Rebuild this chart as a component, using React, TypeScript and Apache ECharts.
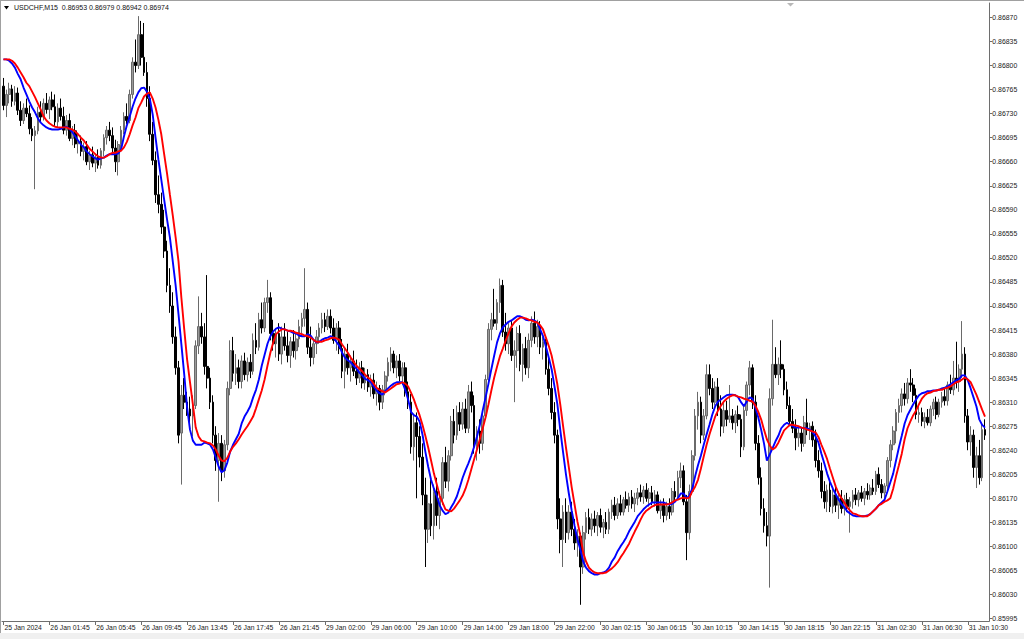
import React, { useEffect, useRef } from "react";
import * as echarts from "echarts";

// Prices are stored as points above 0.86000 (1 point = 0.00001)
const BASE = 0.86;

const OPEN_PTS = [
770,742,758,766,748,760,735,720,738,730,
708,698,705,732,725,745,736,750,740,718,
738,726,706,720,694,705,686,690,675,682,
660,670,658,666,655,676,695,706,698,680,
660,685,706,726,720,758,805,800,845,812,
790,752,700,662,612,598,565,530,480,450,
405,360,265,320,310,300,290,305,392,420,
405,362,345,310,262,225,250,210,248,330,
385,352,360,340,370,350,368,355,400,390,
430,418,455,462,410,395,410,380,405,392,
378,398,385,402,420,432,445,390,375,395,
405,418,430,420,435,418,400,418,388,355,
380,360,370,355,345,360,338,350,332,342,
322,330,310,328,348,368,380,360,370,348,
360,325,310,245,280,260,230,175,125,162,
130,180,145,170,222,195,232,282,262,295,
278,300,272,325,305,245,268,250,290,343,
416,430,425,455,480,412,395,418,378,385,
410,365,388,360,400,425,405,420,390,398,
358,330,295,262,140,110,150,120,150,125,
105,115,70,120,142,125,140,130,145,128,
135,125,150,160,145,162,150,168,160,172,
162,170,178,172,182,170,178,165,175,152,
160,145,158,150,180,172,200,210,165,120,
180,232,290,310,262,290,350,330,310,332,
300,275,298,285,290,280,292,285,245,298,
335,360,310,250,200,155,130,115,315,365,
350,365,358,328,305,282,272,258,265,250,
280,270,275,255,225,210,180,165,182,158,
175,160,170,155,168,158,165,175,168,178,
170,180,175,185,180,205,190,178,188,225,
248,268,295,305,322,315,338,335,320,292,
295,282,288,280,300,310,292,310,318,312,
335,328,345,340,358,380,290,252,262,215,
232,200,270
];

const HIGH_PTS = [
782,765,775,772,770,768,748,745,752,742,
725,712,740,748,752,760,755,762,758,745,
752,740,728,730,712,715,700,698,688,690,
676,682,672,678,680,700,712,718,710,692,
690,712,732,745,765,812,838,872,865,862,
805,770,718,675,640,615,590,545,505,470,
420,370,335,345,325,318,320,400,464,440,
425,495,360,320,275,265,262,255,340,400,
405,380,372,378,382,375,380,410,425,440,
455,462,488,470,430,418,425,420,425,412,
405,415,410,430,440,505,455,420,400,415,
425,440,440,445,445,432,425,428,402,390,
395,378,385,372,368,370,360,358,350,352,
340,335,335,355,375,390,385,378,380,368,
368,340,322,290,295,275,250,200,175,200,
190,200,180,230,245,240,290,300,305,310,
310,315,335,340,320,275,285,300,350,425,
440,475,460,490,488,440,425,428,400,420,
422,395,405,410,435,442,430,428,405,402,
375,345,310,270,170,160,170,160,165,140,
125,120,130,150,155,148,152,150,155,140,
150,155,168,172,170,175,172,180,178,182,
178,185,190,188,192,185,188,182,180,168,
170,165,170,185,195,210,222,218,175,190,
240,300,325,318,300,365,365,345,340,345,
320,310,312,335,300,298,305,292,305,340,
370,365,320,262,215,170,150,330,430,390,
375,400,365,340,318,300,285,275,272,290,
315,280,282,270,240,222,195,190,195,185,
190,180,182,175,178,172,182,185,182,188,
185,192,190,198,210,215,198,192,230,255,
275,300,315,330,338,345,358,345,330,305,
302,295,300,305,315,318,315,325,330,340,
350,370,398,365,428,390,300,275,270,245,
255,280,285
];

const LOW_PTS = [
735,725,745,740,742,728,712,715,725,700,
690,620,700,718,720,730,722,735,712,710,
720,700,698,690,684,680,672,668,662,655,
648,652,645,650,650,668,685,690,672,645,
640,678,700,715,716,752,790,795,800,785,
740,690,655,600,585,555,520,470,440,395,
350,250,190,300,290,270,260,300,380,395,
350,330,300,250,210,165,195,200,240,320,
340,335,330,330,342,340,345,350,380,385,
410,412,440,400,385,375,370,365,385,368,
360,375,372,390,405,420,380,362,365,380,
395,410,412,415,410,395,385,380,345,330,
350,340,348,335,338,330,328,325,318,315,
305,298,300,320,340,355,352,345,340,335,
318,300,235,225,170,215,160,70,105,115,
110,130,125,160,185,180,225,250,255,268,
270,265,265,295,235,225,235,240,285,338,
400,420,415,440,405,385,380,370,310,360,
355,340,350,345,390,395,390,380,372,350,
320,285,250,125,90,70,105,110,115,95,
85,15,60,110,118,115,120,115,120,112,
118,118,140,138,140,145,145,155,150,155,
150,160,165,162,165,158,160,158,148,140,
135,138,140,145,165,168,185,160,80,110,
175,225,270,250,255,285,320,300,305,290,
260,265,275,280,270,265,275,230,240,290,
320,300,240,190,145,120,100,40,305,345,
335,345,320,300,275,265,240,245,238,245,
262,255,245,215,200,170,155,150,150,148,
150,140,148,145,150,120,155,160,158,165,
160,168,168,175,175,185,170,170,182,215,
240,250,280,295,305,308,325,310,285,280,
275,272,276,275,290,285,288,302,305,305,
322,320,330,325,345,280,240,232,200,185,
190,195,255
];

const CLOSE_PTS = [
742,758,766,748,760,735,720,738,730,708,
698,705,732,725,745,736,750,740,718,738,
726,706,720,694,705,686,690,675,682,660,
670,658,666,655,676,695,706,698,680,660,
685,706,726,720,758,805,800,845,812,790,
752,700,662,612,598,565,530,480,450,405,
360,262,320,310,300,290,305,392,420,405,
362,345,310,262,225,250,210,248,330,385,
352,360,340,370,350,368,355,400,390,430,
418,455,462,410,395,410,380,405,392,378,
398,385,402,420,432,445,390,375,395,405,
418,430,420,435,418,400,418,388,355,380,
360,370,355,345,360,338,350,332,342,322,
330,310,328,348,368,380,360,370,348,360,
325,310,245,280,260,230,175,125,162,130,
180,145,170,222,195,232,282,262,295,278,
300,272,325,305,245,268,250,290,343,416,
430,425,455,480,412,395,418,378,385,410,
365,388,360,400,425,405,420,390,398,358,
330,295,262,140,110,150,120,150,125,105,
115,70,120,142,125,140,130,145,128,135,
125,150,160,145,162,150,168,160,172,162,
170,178,172,182,170,178,165,175,152,160,
145,158,150,180,172,200,210,165,120,180,
232,290,310,262,290,350,330,310,332,300,
275,298,285,290,280,292,285,245,298,335,
360,310,250,200,155,130,115,315,365,350,
365,358,328,305,282,272,258,265,250,280,
270,275,255,225,210,180,165,182,158,175,
160,170,155,168,158,165,175,168,178,170,
180,175,185,180,205,190,178,188,225,248,
268,295,305,322,315,338,335,320,292,295,
282,288,280,300,310,292,310,318,312,335,
328,345,340,358,380,290,252,262,215,232,
200,270,262
];

// Fast (blue) moving average, points above 0.86000
const MA_FAST_PTS = [
809,809,807,803,797,788,780,768,758,748,
739,732,723,717,713,710,708,707,707,707,
708,710,711,708,703,697,691,685,681,675,
671,668,665,663,665,666,669,671,671,671,
672,678,697,713,726,740,752,761,767,768,
762,752,729,695,663,634,605,576,550,515,
480,438,394,350,302,270,254,248,248,248,
251,250,248,241,229,216,208,211,222,238,
248,256,264,279,289,296,304,317,328,343,
363,379,395,406,413,417,419,417,416,414,
413,411,410,407,406,406,409,407,401,397,
398,401,403,404,406,404,398,392,382,375,
371,368,363,359,353,349,344,342,339,333,
327,323,321,326,330,334,337,339,339,339,
328,314,296,291,289,282,263,238,216,197,
184,173,160,152,147,149,157,164,173,186,
200,211,221,232,245,260,277,298,317,337,
358,378,397,410,419,423,427,429,432,435,
435,433,430,429,430,429,426,416,406,391,
375,358,333,307,270,237,205,177,152,130,
110,96,78,69,64,61,59,59,61,62,
64,69,78,84,93,100,106,113,122,129,
136,144,149,154,158,161,164,164,164,164,
164,162,161,162,165,170,177,177,170,174,
184,202,218,232,248,263,277,292,304,311,
314,317,320,321,321,320,317,310,304,311,
317,315,302,288,270,250,225,234,243,253,
261,272,277,280,277,275,273,273,273,272,
272,270,266,260,251,235,221,206,194,184,
176,168,162,157,151,148,145,144,144,144,
144,145,147,151,155,160,164,168,180,193,
206,225,244,261,279,291,299,307,314,320,
323,324,326,326,327,327,328,330,331,333,
336,339,342,344,349,349,342,330,317,304,
285,277,273
];

// Slow (red) moving average, points above 0.86000
const MA_SLOW_PTS = [
809,809,809,807,803,797,790,783,775,770,
762,754,745,736,726,720,716,713,711,710,
710,710,710,708,707,704,700,695,691,685,
679,675,671,668,666,666,668,671,673,673,
675,676,681,689,700,713,724,738,746,755,
759,761,752,739,721,700,671,643,612,582,
550,515,462,416,372,339,307,273,260,254,
253,251,250,247,241,232,225,224,229,238,
245,250,256,263,269,275,282,289,301,314,
327,343,363,382,397,409,413,416,416,414,
414,413,411,410,409,407,406,404,401,398,
398,398,400,401,403,404,403,401,394,388,
382,375,369,363,359,355,350,346,343,337,
331,328,326,324,327,330,333,336,337,339,
337,333,324,314,302,291,277,261,244,225,
206,190,174,164,154,152,151,155,161,167,
174,184,197,212,227,241,256,272,288,307,
327,346,362,377,388,400,410,420,426,430,
433,433,432,430,429,427,426,422,416,404,
392,378,358,336,307,275,244,215,186,161,
136,116,91,78,69,65,62,61,61,61,
62,65,68,72,77,84,90,97,104,113,
122,130,139,147,152,155,158,160,161,161,
161,161,162,164,167,168,170,171,170,171,
180,187,197,213,231,248,263,276,289,298,
305,311,315,318,320,320,318,317,315,314,
312,311,305,296,285,270,256,247,241,244,
251,260,269,273,277,277,276,275,273,272,
270,269,267,266,259,248,238,227,213,200,
187,177,170,164,157,152,148,147,145,144,
144,144,147,151,155,160,162,165,167,170,
184,202,218,235,256,272,282,291,298,307,
315,320,323,324,326,327,328,328,330,331,
333,336,339,340,343,346,343,339,330,321,
310,299,289
];

// One tick label every 16 bars
const TIME_LABELS = [
  "25 Jan 2024", "26 Jan 01:45", "26 Jan 05:45", "26 Jan 09:45", "26 Jan 13:45",
  "26 Jan 17:45", "26 Jan 21:45", "29 Jan 02:00", "29 Jan 06:00", "29 Jan 10:00",
  "29 Jan 14:00", "29 Jan 18:00", "29 Jan 22:00", "30 Jan 02:15", "30 Jan 06:15",
  "30 Jan 10:15", "30 Jan 14:15", "30 Jan 18:15", "30 Jan 22:15", "31 Jan 02:30",
  "31 Jan 06:30", "31 Jan 10:30"
];

const PRICE_TICKS = [
  0.85995, 0.8603, 0.86065, 0.861, 0.86135, 0.8617, 0.86205, 0.8624, 0.86275,
  0.8631, 0.86345, 0.8638, 0.86415, 0.8645, 0.86485, 0.8652, 0.86555, 0.8659,
  0.86625, 0.8666, 0.86695, 0.8673, 0.86765, 0.868, 0.86835, 0.8687
];

const HEADER = "USDCHF,M15  0.86953 0.86979 0.86942 0.86974";

const FONT = "'Liberation Sans', Arial, sans-serif";

export default function App() {
  const ref = useRef<HTMLDivElement>(null);

  useEffect(() => {
    document.body.style.margin = "0";
    const el = ref.current;
    if (!el) return;
    const chart = echarts.init(el, null, { renderer: "svg" });
    const toP = (v: number) => +(BASE + v / 100000).toFixed(5);
    const n = OPEN_PTS.length;
    const cats = Array.from({ length: n + 1 }, (_, i) => String(i));
    const candles = OPEN_PTS.map((o, i) => [
      toP(o),
      toP(CLOSE_PTS[i]),
      toP(LOW_PTS[i]),
      toP(HIGH_PTS[i]),
    ]);
    const fast = MA_FAST_PTS.map(toP);
    const slow = MA_SLOW_PTS.map(toP);

    chart.setOption({
      animation: false,
      backgroundColor: "#ffffff",
      grid: { left: 2, top: 3, width: 987.3, height: 618 },
      xAxis: {
        type: "category",
        data: cats,
        boundaryGap: true,
        axisLine: { show: true, lineStyle: { color: "#6e6e6e", width: 1 } },
        axisTick: {
          show: true,
          interval: 15,
          alignWithLabel: true,
          length: 4,
          lineStyle: { color: "#6e6e6e" },
        },
        axisLabel: {
          interval: 15,
          align: "left",
          margin: 3,
          padding: [0, 0, 0, 1],
          fontSize: 6.8,
          fontFamily: FONT,
          color: "#1a1a1a",
          formatter: (_v: string, idx: number) =>
            idx % 16 === 0 && TIME_LABELS[idx / 16] ? TIME_LABELS[idx / 16] : "",
        },
        splitLine: { show: false },
      },
      yAxis: {
        type: "value",
        position: "right",
        scale: true,
        min: 0.859914,
        max: 0.868911,
        axisLine: { show: true, lineStyle: { color: "#6e6e6e", width: 1 } },
        axisTick: {
          show: true,
          length: 3,
          lineStyle: { color: "#6e6e6e" },
          customValues: PRICE_TICKS,
        },
        axisLabel: {
          margin: 3,
          fontSize: 6.9,
          fontFamily: FONT,
          color: "#1a1a1a",
          customValues: PRICE_TICKS,
          formatter: (v: number) => v.toFixed(5),
        },
        splitLine: { show: false },
      },
      series: [
        {
          type: "candlestick",
          data: candles,
          barWidth: 2.2,
          itemStyle: {
            color: "#9a9a9a",
            color0: "#000000",
            borderColor: "#6a6a6a",
            borderColor0: "#000000",
            borderWidth: 1,
          },
          z: 2,
        },
        {
          type: "line",
          data: fast,
          showSymbol: false,
          symbol: "none",
          lineStyle: { color: "#0000ff", width: 1.9 },
          z: 3,
        },
        {
          type: "line",
          data: slow,
          showSymbol: false,
          symbol: "none",
          lineStyle: { color: "#ff0000", width: 1.9 },
          z: 4,
        },
      ],
      graphic: [
        {
          type: "rect",
          shape: { x: 0, y: 633, width: 1024, height: 6 },
          style: { fill: "#f0f0f0" },
          silent: true,
        },
        {
          type: "line",
          shape: { x1: 0.5, y1: 0, x2: 0.5, y2: 633 },
          style: { stroke: "#a0a0a0", lineWidth: 1 },
          silent: true,
        },
        {
          type: "line",
          shape: { x1: 0, y1: 0.5, x2: 1024, y2: 0.5 },
          style: { stroke: "#a0a0a0", lineWidth: 1 },
          silent: true,
        },
        {
          type: "polygon",
          shape: { points: [[4, 6], [9, 6], [6.5, 9.5]] },
          style: { fill: "#000" },
          silent: true,
        },
        {
          type: "text",
          x: 14,
          y: 4,
          style: {
            text: HEADER,
            fontSize: 7,
            fontFamily: FONT,
            fill: "#111",
          },
          silent: true,
        },
        {
          type: "polygon",
          shape: { points: [[787, 3], [794, 3], [790.5, 6.5]] },
          style: { fill: "#b8b8b8" },
          silent: true,
        },
      ],
    });

    return () => chart.dispose();
  }, []);

  return <div ref={ref} style={{ width: 1024, height: 639 }} />;
}
